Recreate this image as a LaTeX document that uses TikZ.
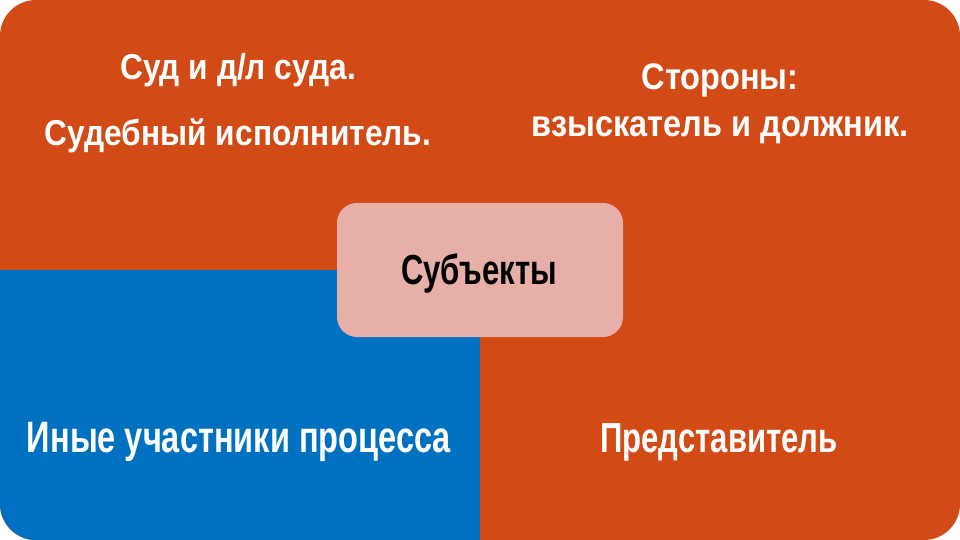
\documentclass[tikz,border=0pt]{standalone}
\usepackage{fontspec}
\newfontfamily\narrowfont{Liberation Sans}[FakeStretch=0.74]
\newfontfamily\widefont{Liberation Sans}[FakeStretch=0.88]
\definecolor{rust}{RGB}{210,74,22}
\definecolor{ocean}{RGB}{0,112,192}
\definecolor{blush}{RGB}{230,176,168}
\tikzset{
  label/.style={text=white, inner sep=0pt, anchor=base, font=\narrowfont\bfseries\fontsize{#1}{#1}\selectfont},
  label/.default=42bp,
  toplabel/.style={label, font=\widefont\bfseries\fontsize{#1}{#1}\selectfont}
}
\begin{document}
\begin{tikzpicture}[x=1bp, y=-1bp]
  \def\w{960}
  \def\h{540}
  \useasboundingbox (0,0) rectangle (\w,\h);

  %% background quadrants
  \begin{scope}
    \clip [rounded corners=36bp] (0,0) rectangle (\w,\h);
    \fill [rust] (0,0) rectangle (\w,\h);
    \fill [ocean] (0,\h/2) rectangle (\w/2,\h);
  \end{scope}

  %% centre box
  \node [fill=blush, rounded corners=20bp, minimum width=286bp, minimum height=134bp,
         inner sep=0pt] (centre) at (480,270) {};
  \node [label=42bp, text=black] (subj) at (479,285) {Субъекты};

  %% top left
  \node [toplabel=36bp] (court) at (238,80) {Суд и д/л суда.};
  \node [toplabel=36bp] (bailiff) at (238,146) {Судебный исполнитель.};

  %% top right
  \node [toplabel=37bp] (parties) at (720,90) {Стороны:};
  \node [toplabel=37bp] (debtor) at (720,137) {взыскатель и должник.};

  %% bottom
  \node [label=44bp] (others) at (239,452) {Иные участники процесса};
  \node [label=42bp] (agent) at (719,452) {Представитель};
\end{tikzpicture}
\end{document}
